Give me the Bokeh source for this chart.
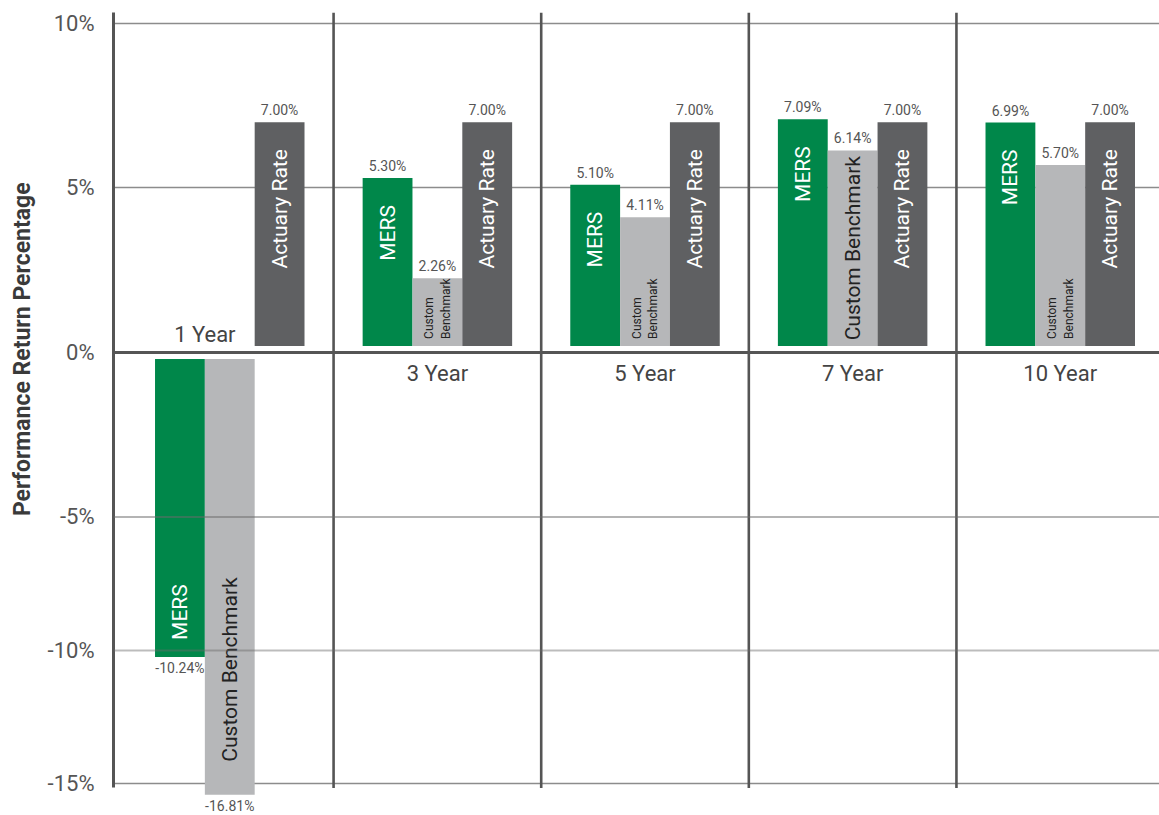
import math
from bokeh.plotting import figure
from bokeh.models import (ColumnDataSource, Range1d, Span, FixedTicker,
                          CustomJSTransform, CustomJSTickFormatter)
from bokeh.layouts import row
from bokeh.transform import transform
from bokeh.embed import file_html
from bokeh.resources import INLINE
from bokeh.core.properties import value

# ---------------- data ----------------
periods = ["1 Year", "3 Year", "5 Year", "7 Year", "10 Year"]
mers = [-10.24, 5.30, 5.10, 7.09, 6.99]
custom_benchmark = [-16.81, 2.26, 4.11, 6.14, 5.70]
actuary_rate = [7.00, 7.00, 7.00, 7.00, 7.00]
series_names = ["MERS", "Custom Benchmark", "Actuary Rate"]
y_ticks = [10, 5, 0, -5, -10, -15]
y_title = "Performance Return Percentage"

# ---------------- style ----------------
FONT = "Roboto"
series_colors = ["#00874a", "#b6b7b9", "#5f6062"]
series_text_colors = ["#ffffff", "#222222", "#ffffff"]
AXIS_C = "#555555"
GRID_C = "#8c8c8c"
LABEL_C = "#555555"
BAR_W = 0.24
GAP = 0.2           # small gap between bar base and the zero line
FLOOR = -15.4       # the original truncates bars just below its -15% floor
TITLE_W = 40
FRAME_W = 1046
FRAME_H = 802
LEFT = 113
PX_PER_UNIT = 32.9

# The original's axis is compressed below -5 %: a piecewise-linear y axis.
BREAK = -5.0
K = 26.7 / 32.9


def fwd(v):
    return v if v >= BREAK else BREAK + (v - BREAK) * K


ytf = CustomJSTransform(
    args=dict(b=BREAK, k=K),
    func="return x >= b ? x : b + (x - b) * k;",
    v_func=("const out = new Float64Array(xs.length);"
            "for (let i = 0; i < xs.length; i++) {"
            "  const x = xs[i]; out[i] = x >= b ? x : b + (x - b) * k; }"
            "return out;"))

Y_TOP = 10.334
x_range = Range1d(-0.06, 4.978)
y_range = Range1d(Y_TOP - FRAME_H / PX_PER_UNIT, Y_TOP)

p = figure(x_range=x_range, y_range=y_range, frame_width=FRAME_W,
           frame_height=FRAME_H, min_border_left=LEFT - TITLE_W, min_border_right=0,
           min_border_top=12, min_border_bottom=0,
           x_axis_location=None, toolbar_location=None,
           output_backend="svg", outline_line_color=None,
           background_fill_color="white", border_fill_color="white")
p.xgrid.visible = False
p.ygrid.ticker = FixedTicker(ticks=[fwd(t) for t in y_ticks if t > 0 or t == -15])
p.ygrid.grid_line_color = GRID_C
p.ygrid.grid_line_width = 1.3
ax = p.yaxis[0]
ax.ticker = FixedTicker(ticks=[fwd(t) for t in y_ticks])
ax.formatter = CustomJSTickFormatter(
    args=dict(b=BREAK, k=K),
    code="const v = tick >= b ? tick : b + (tick - b) / k; return Math.round(v) + '%';")
ax.major_tick_line_color = None
ax.minor_tick_line_color = None
ax.axis_line_color = AXIS_C
ax.axis_line_width = 3
ax.major_label_text_font = FONT
ax.major_label_text_font_size = "22px"
ax.major_label_text_color = LABEL_C
ax.major_label_standoff = 13
ax.bounds = (fwd(-15.15), y_range.end)

# ---------------- bars ----------------
series_values = [mers, custom_benchmark, actuary_rate]
bars = dict(x=[], top=[], bottom=[], color=[])
for i, _ in enumerate(periods):
    for j, vals in enumerate(series_values):
        v = vals[i]
        bars["x"].append(i + 0.5 + (j - 1) * BAR_W)
        bars["top"].append(v if v > 0 else -GAP)
        bars["bottom"].append(GAP if v > 0 else max(v, FLOOR))
        bars["color"].append(series_colors[j])
p.vbar(x="x", width=BAR_W, top=transform("top", ytf), bottom=transform("bottom", ytf),
       fill_color="color", line_color=None, source=ColumnDataSource(bars))

# grid lines of the negative part lie over the bars, as in the original
p.add_layout(Span(location=fwd(-5), dimension="width", line_color="#6a6a6a",
                  line_alpha=0.5, line_width=2.2))
p.add_layout(Span(location=fwd(-10), dimension="width", line_color="#6a6a6a",
                  line_alpha=0.45, line_width=2))

# separators between periods
seps = list(range(1, len(periods)))
p.segment(x0=seps, x1=seps, y0=[y_range.end] * len(seps),
          y1=[fwd(-15.15)] * len(seps), line_color=AXIS_C, line_width=2.6)

# zero line
p.add_layout(Span(location=fwd(0), dimension="width", line_color=AXIS_C, line_width=3))


def add_text(xs, ys, texts, color, size, align, baseline, yoff, angle=0.0):
    src = ColumnDataSource(dict(x=xs, y=ys, t=texts))
    p.text(x="x", y=transform("y", ytf), text="t", source=src, text_color=color,
           text_font=value(FONT), text_font_size=value(size),
           text_align=align, text_baseline=baseline, y_offset=yoff, angle=angle)


# ---------------- value labels ----------------
pos = dict(x=[], y=[], t=[])
neg = dict(x=[], y=[], t=[])
for i, _ in enumerate(periods):
    for j, vals in enumerate(series_values):
        v = vals[i]
        d = pos if v > 0 else neg
        d["x"].append(i + 0.5 + (j - 1) * BAR_W)
        d["y"].append(v if v > 0 else max(v, FLOOR))
        d["t"].append(f"{v:.2f}%")
add_text(pos["x"], pos["y"], pos["t"], LABEL_C, "14px", "center", "bottom", -4)
add_text(neg["x"], neg["y"], neg["t"], LABEL_C, "14px", "center", "top", 3)

# ---------------- labels inside bars ----------------
ROT = math.pi / 2
for j, vals in enumerate(series_values):
    name = series_names[j]
    col = series_text_colors[j]
    for i, v in enumerate(vals):
        x = i + 0.5 + (j - 1) * BAR_W
        if name == "Custom Benchmark" and abs(v) < 6:
            add_text([x], [GAP], ["Custom\nBenchmark"], col, "12px", "left", "middle", -7, ROT)
        elif name == "Custom Benchmark" and v > 0:
            add_text([x], [(v + GAP) / 2], [name], col, "21px", "center", "middle", 0, ROT)
        elif v > 0:
            add_text([x], [v], [name], col, "21px", "right", "middle", 27, ROT)
        else:
            add_text([x], [max(v, FLOOR)], [name], col, "21px", "left", "middle",
                     -33 if name == "Custom Benchmark" else -17, ROT)

# ---------------- period labels ----------------
for i, period in enumerate(periods):
    negs = [i + 0.5 + (j - 1) * BAR_W for j, vals in enumerate(series_values) if vals[i] < 0]
    if negs:
        add_text([sum(negs) / len(negs)], [0], [period], "#444444", "22px", "center", "middle", -18)
    else:
        add_text([i + 0.5], [0], [period], "#444444", "22px", "center", "middle", 21)

# ---------------- axis title (narrow panel sharing the y range) ----------------
t = figure(x_range=Range1d(0, 1), y_range=y_range, frame_width=TITLE_W,
           frame_height=FRAME_H, min_border_left=0, min_border_right=0,
           min_border_top=12, min_border_bottom=0, x_axis_location=None,
           y_axis_location=None, toolbar_location=None, output_backend="svg",
           outline_line_color=None, background_fill_color="white",
           border_fill_color="white")
t.grid.visible = False
t.text(x=[0.55], y=[fwd(0.1)], text=[y_title], angle=ROT, text_align="center",
       text_baseline="middle", text_font=value(FONT), text_font_style="bold",
       text_font_size=value("23px"), text_color="#3a3a3a")

layout = row(t, p, spacing=0)
open("out.html", "w").write(file_html(layout, INLINE))
